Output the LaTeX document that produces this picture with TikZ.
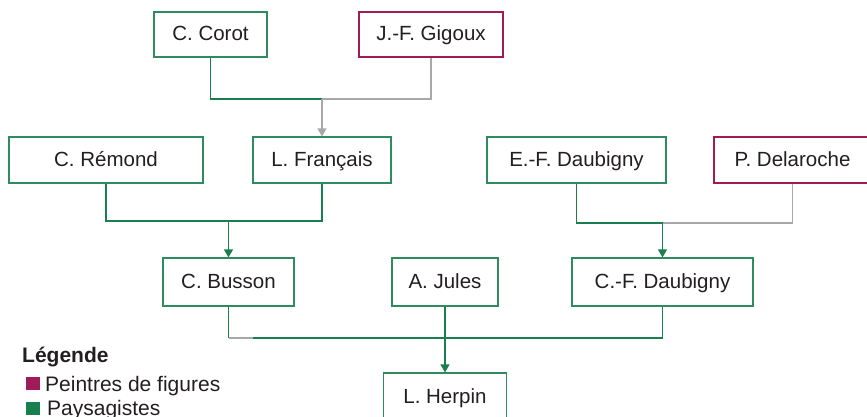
\documentclass[tikz,border=0pt]{standalone}
\usepackage{fontspec}
\setmainfont{Liberation Sans}
\usetikzlibrary{arrows.meta}
\definecolor{grn}{HTML}{1A7F4E}
\definecolor{grnbox}{HTML}{2E8B5E}
\definecolor{mag}{HTML}{A01C58}
\definecolor{gry}{HTML}{A8A8A8}
\definecolor{txt}{HTML}{231F20}
\tikzset{
  person/.style={draw, line width=1.2pt, fill=white, inner sep=0pt, text=txt,
    font=\fontsize{20.5}{25}\selectfont, text height=15pt, text depth=3pt},
  paysbox/.style={person, draw=grnbox},
  figbox/.style={person, draw=mag},
  gline/.style={draw=grn, line width=1.2pt},
  grline/.style={draw=gry, line width=1.2pt},
  tip/.style={-{Triangle[width=9pt,length=8pt]}},
  legtext/.style={anchor=base west, inner sep=0pt, text=txt, font=\fontsize{21}{25}\selectfont},
  legsq/.style={inner sep=0pt, minimum width=13.5pt, minimum height=13pt},
}
\begin{document}
\begin{tikzpicture}[x=1pt,y=-1pt]
\useasboundingbox (0,0) rectangle (867,416);
\clip (0,0) rectangle (867,416);
% boxes
\node[paysbox, minimum width=113pt, minimum height=45pt] (corot) at (210.5,34.5) {C. Corot};
\node[figbox, minimum width=144pt, minimum height=45pt] (gigoux) at (431,34.5) {J.-F. Gigoux};
\node[paysbox, minimum width=194pt, minimum height=46pt] (remond) at (106,160) {C. Rémond};
\node[paysbox, minimum width=138pt, minimum height=46pt] (francais) at (322,160) {L. Français};
\node[paysbox, minimum width=179pt, minimum height=46pt] (efd) at (576.5,160) {E.-F. Daubigny};
\node[figbox, minimum width=157pt, minimum height=46pt] (delaroche) at (792.5,160) {P. Delaroche};
\node[paysbox, minimum width=131pt, minimum height=48pt] (busson) at (228.5,282) {C. Busson};
\node[paysbox, minimum width=106pt, minimum height=48pt] (jules) at (445,282) {A. Jules};
\node[paysbox, minimum width=181pt, minimum height=48pt] (cfd) at (662.5,282) {C.-F. Daubigny};
\node[paysbox, minimum width=123pt, minimum height=48pt] (herpin) at (445,397) {L. Herpin};
% junctions
\coordinate (m1) at (francais.north |- 0,99);
\coordinate (m2) at (busson.north |- 0,221);
\coordinate (m3) at (cfd.north |- 0,223);
\coordinate (m4) at (busson.south |- 0,338);
\coordinate (m4b) at (253,338);
\coordinate (m5) at (cfd.south |- 0,338);
% top family
\draw[gline] (corot.south) |- (m1);
\draw[grline] (gigoux.south) |- (m1);
\draw[grline, tip] (m1) -- (francais.north);
% Remond + Francais
\draw[gline] (remond.south) |- (m2);
\draw[gline] (francais.south) |- (m2);
\draw[gline, tip] (m2) -- (busson.north);
% Daubigny + Delaroche
\draw[gline] (efd.south) |- (m3);
\draw[grline] (delaroche.south) |- (m3);
\draw[gline, tip] (m3) -- (cfd.north);
% bottom
\draw[gline] (busson.south) -- (m4);
\draw[grline] (m4) -- (m4b);
\draw[gline] (m4b) -- (m5);
\draw[gline] (cfd.south) -- (m5);
\draw[gline, tip] (jules.south) -- (herpin.north);
% legend
\node[legtext, font=\fontsize{21}{25}\selectfont\bfseries] (legt) at (22,362) {Légende};
\node[legsq, fill=mag] (sq1) at (32.8,383) {};
\node[legtext] (lt1) at (45,391) {Peintres de figures};
\node[legsq, fill=grn] (sq2) at (32.8,408.3) {};
\node[legtext] (lt2) at (47,415) {Paysagistes};
\end{tikzpicture}
\end{document}
